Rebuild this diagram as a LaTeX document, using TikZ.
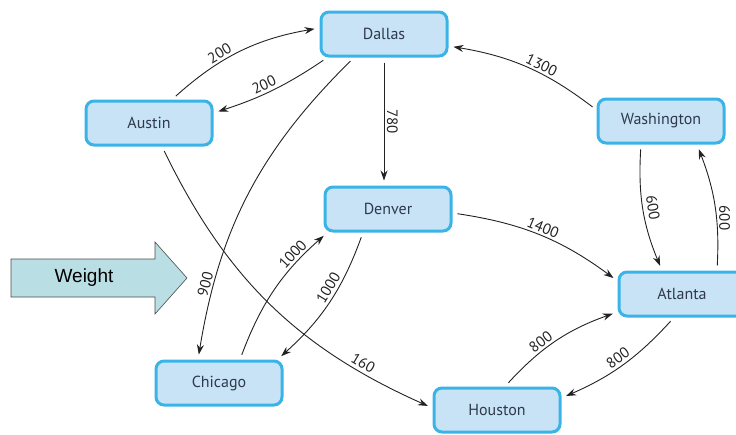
\documentclass[tikz,border=0pt]{standalone}
\usepackage{fontspec}
\setmainfont{PT Sans}
\newfontfamily\arialfont{Liberation Sans}
\usetikzlibrary{arrows.meta}
\definecolor{boxfill}{HTML}{C8E2F6}
\definecolor{boxline}{HTML}{3AB4E6}
\definecolor{boxtext}{HTML}{2E3A4B}
\definecolor{edgecol}{HTML}{222222}
\definecolor{weightfill}{HTML}{B9DEE3}
\begin{document}
\begin{tikzpicture}[x=1pt,y=1pt,
  city/.style={draw=boxline, fill=boxfill, line width=3pt, rounded corners=8pt,
    minimum width=126pt, minimum height=44pt, text=boxtext,
    font=\fontsize{16}{19}\selectfont},
  road/.style={draw=edgecol, line width=0.9pt, -{Stealth[length=10pt,width=7pt]},
    shorten <=5pt, shorten >=5pt},
  wtbase/.style={font=\fontsize{15}{18}\selectfont, text=edgecol, inner sep=2.5pt},
  wt/.style={wtbase, sloped, above}]

\useasboundingbox (0,0) rectangle (736,-434);

% cities
\node[city] (dallas)     at (384,-34)  {Dallas};
\node[city] (austin)     at (149,-123) {Austin};
\node[city] (washington) at (661,-121) {Washington};
\node[city] (denver)     at (388,-209) {Denver};
\node[city] (atlanta)    at (682,-294) {Atlanta};
\node[city] (chicago)    at (219,-383) {Chicago};
\node[city] (houston)    at (497,-410) {Houston};

% weighted roads
\draw[road] ([xshift=23pt]austin.north) to[bend left=16]
  node[wt,pos=0.38]{200} ([yshift=6pt]dallas.west);
\draw[road] ([xshift=8pt]dallas.south west) to[bend left=8]
  node[wt,pos=0.55]{200} ([yshift=10pt]austin.east);
\draw[road] ([xshift=-30pt]dallas.south) to[bend right=18]
  node[wt,pos=0.8]{900} ([xshift=-21pt]chicago.north);
\draw[road] (dallas.south) -- node[wt]{780} (dallas.south |- denver.north);
\draw[road] ([yshift=11pt]washington.west) to[bend right=14]
  node[wt,pos=0.42]{1300} ([yshift=-12pt]dallas.east);
\draw[road] ([xshift=13pt]austin.south) to[bend right=20]
  node[wt,pos=0.8]{160} ([yshift=2pt]houston.west);
\draw[road] ([xshift=21pt]chicago.north) to[bend left=14]
  node[wt,pos=0.76]{1000} ([xshift=4pt]denver.south west);
\draw[road] ([xshift=-25pt]denver.south) to[bend left=14]
  node[wt,pos=0.42]{1000} ([xshift=-6pt]chicago.north east);
\draw[road] ([yshift=-4pt]denver.east) to[bend left=14]
  node[wt]{1400} ([yshift=13pt]atlanta.west);
\draw[road] ([xshift=-20pt]washington.south) to[bend right=13]
  node[wt,inner sep=4pt]{600} ([xshift=-20pt]atlanta.north);
\draw[road] ([xshift=35pt]atlanta.north) to[bend right=12]
  node[wtbase, rotate=-90, above, pos=0.4]{600}
  ([xshift=36pt]washington.south);
\draw[road] ([xshift=8pt]houston.north) to[bend left=14]
  node[wt,pos=0.4]{800} ([yshift=-18pt]atlanta.west);
\draw[road] ([xshift=-8pt]atlanta.south) to[bend left=12]
  node[wt]{800} ([yshift=12pt]houston.east);

% the "Weight" pointer
\draw[draw=black!70, line width=0.6pt, fill=weightfill]
  (11,-259) -- (155,-259) -- (155,-242) -- (187,-278) -- (155,-314)
  -- (155,-297) -- (11,-297) -- cycle;
\node[font=\arialfont\fontsize{19}{22}\selectfont] (weight) at (84,-278) {Weight};
\end{tikzpicture}
\end{document}
